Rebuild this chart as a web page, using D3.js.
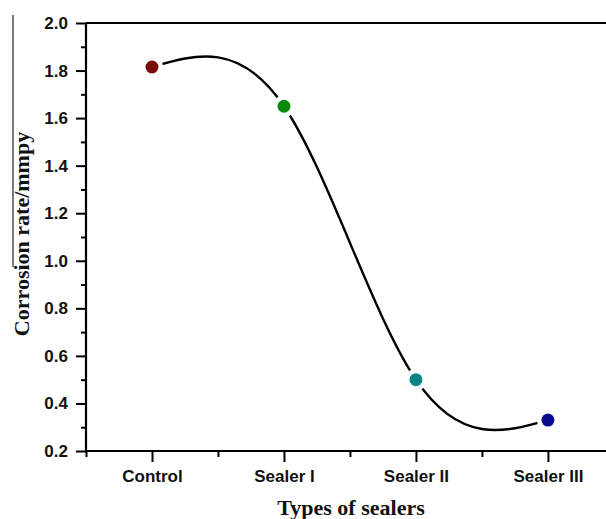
<!DOCTYPE html>
<html>
<head>
<meta charset="utf-8">
<script src="https://cdn.jsdelivr.net/npm/d3@7"></script>
<style>
  html, body { margin: 0; padding: 0; background: #fff; }
  svg { display: block; }
</style>
</head>
<body>
<svg id="chart" width="606" height="519"></svg>
<script>
const categories = ["Control", "Sealer I", "Sealer II", "Sealer III"];
const corrosionRate = [1.815, 1.65, 0.50, 0.33];
const pointColors = ["#7a0a0a", "#0a8a0a", "#0a8585", "#0a0a8f"];
const yTickValues = [0.2, 0.4, 0.6, 0.8, 1.0, 1.2, 1.4, 1.6, 1.8, 2.0];
const yMinorTickValues = [0.3, 0.5, 0.7, 0.9, 1.1, 1.3, 1.5, 1.7, 1.9];

const svg = d3.select("#chart");
const W = 606, H = 519;

const x = d3.scaleLinear().domain([-0.5, 3.44]).range([86, 606]);
const y = d3.scaleLinear().domain([0.2, 2.0]).range([451, 23]);

const data = categories.map((c, i) => ({ c, i, v: corrosionRate[i], color: pointColors[i] }));

// Y axis major
const yAxis = d3.axisLeft(y).tickValues(yTickValues).tickFormat(d3.format(".1f")).tickSize(10).tickPadding(8);
const gy = svg.append("g").attr("transform", `translate(${x(-0.5)},0)`).call(yAxis);
gy.select(".domain").attr("stroke", "#000").attr("stroke-width", 2.2).attr("d", `M0,${y(0.2)}V${y(2.0)}`);
gy.selectAll(".tick line").attr("stroke", "#000").attr("stroke-width", 2);
gy.selectAll(".tick text").attr("fill", "#111").style("font-family", "Arial, 'Liberation Sans', sans-serif")
  .style("font-weight", "bold").style("font-size", "17px");

// Y axis minor
const yMinor = d3.axisLeft(y).tickValues(yMinorTickValues).tickFormat("").tickSize(5);
const gym = svg.append("g").attr("transform", `translate(${x(-0.5)},0)`).call(yMinor);
gym.select(".domain").remove();
gym.selectAll(".tick line").attr("stroke", "#000").attr("stroke-width", 2);

// X axis major
const xAxis = d3.axisBottom(x).tickValues([0, 1, 2, 3]).tickFormat(i => categories[i]).tickSize(11).tickPadding(8);
const gx = svg.append("g").attr("transform", `translate(0,${y(0.2)})`).call(xAxis);
gx.select(".domain").attr("stroke", "#000").attr("stroke-width", 2.2).attr("d", `M${x(-0.5)},0H${W}`);
gx.selectAll(".tick line").attr("stroke", "#000").attr("stroke-width", 2);
gx.selectAll(".tick text").attr("fill", "#111").style("font-family", "Arial, 'Liberation Sans', sans-serif")
  .style("font-weight", "bold").style("font-size", "17px");

// X axis minor
const xMinor = d3.axisBottom(x).tickValues([-0.5, 0.5, 1.5, 2.5]).tickFormat("").tickSize(6);
const gxm = svg.append("g").attr("transform", `translate(0,${y(0.2)})`).call(xMinor);
gxm.select(".domain").remove();
gxm.selectAll(".tick line").attr("stroke", "#000").attr("stroke-width", 2);

// Top frame line
svg.append("line").attr("x1", x(-0.5)).attr("x2", W).attr("y1", y(2.0)).attr("y2", y(2.0))
  .attr("stroke", "#000").attr("stroke-width", 2.2);

// Curve
const line = d3.line().x(d => x(d.i)).y(d => y(d.v)).curve(d3.curveNatural);
svg.append("path").datum(data).attr("d", line).attr("fill", "none").attr("stroke", "#000").attr("stroke-width", 2.4);

// Gaps around symbols
svg.selectAll("circle.gap").data(data).enter().append("circle").attr("class", "gap")
  .attr("cx", d => x(d.i)).attr("cy", d => y(d.v)).attr("r", 11).attr("fill", "#fff");
svg.selectAll("circle.pt").data(data).enter().append("circle").attr("class", "pt")
  .attr("cx", d => x(d.i)).attr("cy", d => y(d.v)).attr("r", 6.5).attr("fill", d => d.color);

// Axis titles
svg.append("text").attr("x", (x(-0.5) + W) / 2 + 5).attr("y", 515).attr("text-anchor", "middle")
  .style("font-family", "'Liberation Serif', 'Times New Roman', serif").style("font-weight", "bold").style("font-size", "22px")
  .attr("fill", "#111").text("Types of sealers");

svg.append("text").attr("transform", `translate(29,${234}) rotate(-90)`).attr("text-anchor", "middle")
  .style("font-family", "'Liberation Serif', 'Times New Roman', serif").style("font-weight", "bold").style("font-size", "22px")
  .attr("fill", "#111").text("Corrosion rate/mmpy");

// Left vertical rule (overline artifact)
svg.append("line").attr("x1", 13).attr("x2", 13).attr("y1", 15).attr("y2", 267)
  .attr("stroke", "#222").attr("stroke-width", 1.2);
</script>
</body>
</html>
